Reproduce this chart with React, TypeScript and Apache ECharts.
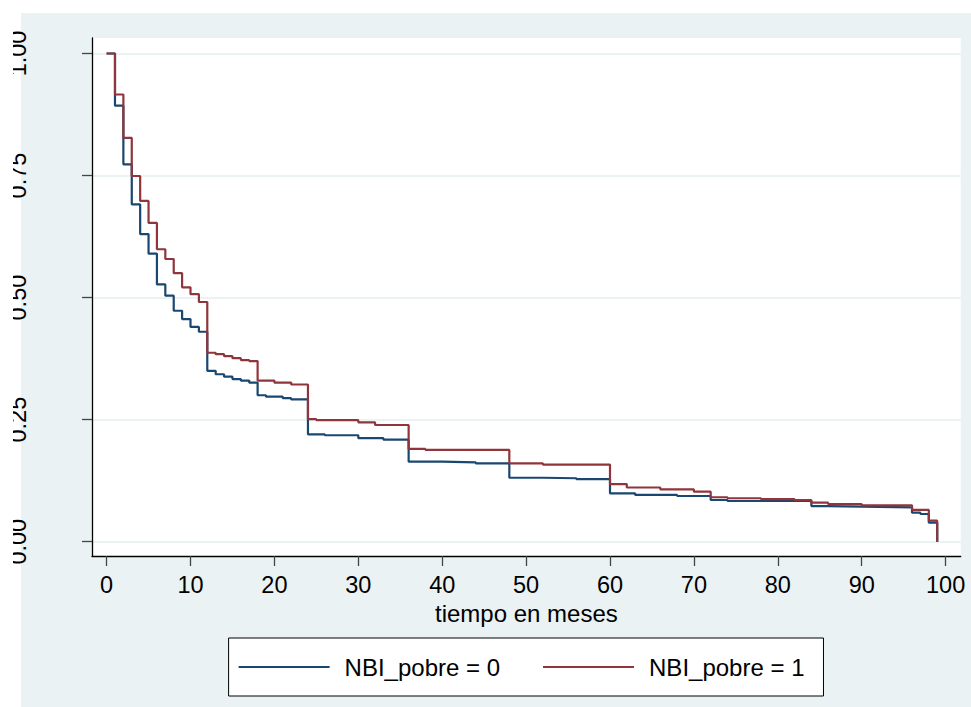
import React, { useEffect, useRef } from "react";
import * as echarts from "echarts";

const xTicks = [0, 10, 20, 30, 40, 50, 60, 70, 80, 90, 100];
const yTicks = [0, 0.25, 0.5, 0.75, 1];
const yTickLabels = ["0.00", "0.25", "0.50", "0.75", "1.00"];

const seriesNames = ["NBI_pobre = 0", "NBI_pobre = 1"];

const t0 = [0, 1, 2, 3, 4, 5, 6, 7, 8, 9, 10, 11, 12, 13, 14, 15, 16, 17, 18, 19, 21, 22, 24, 26, 30, 33, 36, 40, 44, 48, 52, 56, 60, 63, 68, 72, 74, 84, 86, 90, 96, 97, 98, 99];
const s0 = [1, 0.893, 0.773, 0.691, 0.63, 0.59, 0.527, 0.504, 0.473, 0.456, 0.44, 0.43, 0.35, 0.343, 0.338, 0.333, 0.33, 0.326, 0.3, 0.297, 0.294, 0.2915, 0.22, 0.218, 0.212, 0.209, 0.164, 0.1626, 0.1606, 0.131, 0.13, 0.128, 0.099, 0.0957, 0.0936, 0.0854, 0.0834, 0.073, 0.0717, 0.0704, 0.0594, 0.0567, 0.039, 0];

const t1 = [0, 1, 2, 3, 4, 5, 6, 7, 8, 9, 10, 11, 12, 13, 14, 15, 16, 17, 18, 20, 22, 24, 25, 30, 32, 36, 38, 48, 52, 60, 62, 66, 70, 72, 74, 78, 82, 84, 86, 90, 96, 98, 99];
const s1 = [1, 0.916, 0.827, 0.749, 0.698, 0.653, 0.599, 0.579, 0.55, 0.521, 0.507, 0.491, 0.387, 0.384, 0.38, 0.376, 0.372, 0.37, 0.33, 0.326, 0.322, 0.251, 0.249, 0.2445, 0.239, 0.19, 0.188, 0.1606, 0.158, 0.118, 0.111, 0.107, 0.1025, 0.091, 0.089, 0.087, 0.0854, 0.08, 0.077, 0.0745, 0.065, 0.043, 0];

const FONT = "'Liberation Sans', Arial, sans-serif";
const BG = "#EAF2F3";
const COLORS = ["#1a476f", "#90353b"];

export default function App() {
  const ref = useRef<HTMLDivElement>(null);
  useEffect(() => {
    if (!ref.current) return;
    const chart = echarts.init(ref.current, null, { renderer: "svg" });
    const d0 = t0.map((t, i) => [t, s0[i]]);
    const d1 = t1.map((t, i) => [t, s1[i]]);
    chart.setOption({
      animation: false,
      backgroundColor: "#ffffff",
      textStyle: { fontFamily: FONT },
      graphic: [
        { type: "rect", z: -10, silent: true, shape: { x: 21, y: 13, width: 950, height: 694 }, style: { fill: BG } },
        { type: "rect", z: 1000, silent: true, shape: { x: 0, y: 0, width: 13, height: 707 }, style: { fill: "#ffffff" } },
      ],
      grid: {
        left: 92,
        top: 38,
        right: 10.3,
        bottom: 151,
        show: true,
        backgroundColor: "#ffffff",
        borderWidth: 0,
        containLabel: false,
      },
      legend: {
        left: 228.6,
        top: 638,
        orient: "horizontal",
        backgroundColor: "#ffffff",
        borderColor: "#000000",
        borderWidth: 1,
        borderRadius: 0,
        padding: [17, 19, 17, 10],
        itemGap: 43,
        itemWidth: 101,
        itemHeight: 2.2,
        icon: "path://M0,0H91V2.2H0Z M101,0L101,2.2",
        data: seriesNames,
        textStyle: { fontSize: 24, color: "#000", fontFamily: FONT },
      },
      xAxis: {
        type: "value",
        min: -1.74,
        max: 101.8,
        name: "tiempo en meses",
        nameLocation: "middle",
        nameGap: 41,
        nameTextStyle: { fontSize: 24, color: "#000", fontFamily: FONT },
        axisLine: { show: true, onZero: false, lineStyle: { color: "#000", width: 1.3 } },
        axisTick: { show: true, length: 10, customValues: xTicks, lineStyle: { color: "#444", width: 1.3 } },
        axisLabel: { customValues: xTicks, fontSize: 23.5, color: "#000", margin: 17, fontFamily: FONT },
        splitLine: { show: false },
      },
      yAxis: {
        type: "value",
        min: -0.0293,
        max: 1.0317,
        axisLine: { show: true, onZero: false, lineStyle: { color: "#000", width: 1.3 } },
        axisTick: { show: true, length: 10, customValues: yTicks, lineStyle: { color: "#444", width: 1.3 } },
        axisLabel: {
          customValues: yTicks,
          rotate: 90,
          fontSize: 23.5,
          color: "#000",
          margin: 62,
          fontFamily: FONT,
          formatter: (v: number) => {
            const i = yTicks.findIndex((y) => Math.abs(y - v) < 1e-6);
            return i >= 0 ? yTickLabels[i] : "";
          },
        },
        splitLine: { show: true, customValues: yTicks, lineStyle: { color: BG, width: 2 } },
      },
      series: [
        {
          name: seriesNames[0],
          type: "line",
          step: "end",
          symbol: "none",
          data: d0,
          lineStyle: { color: COLORS[0], width: 2.2 },
          itemStyle: { color: COLORS[0] },
        },
        {
          name: seriesNames[1],
          type: "line",
          step: "end",
          symbol: "none",
          data: d1,
          lineStyle: { color: COLORS[1], width: 2.2 },
          itemStyle: { color: COLORS[1] },
        },
      ],
    });
    return () => chart.dispose();
  }, []);
  return <div ref={ref} style={{ position: "absolute", left: 0, top: 0, width: 971, height: 707 }} />;
}
